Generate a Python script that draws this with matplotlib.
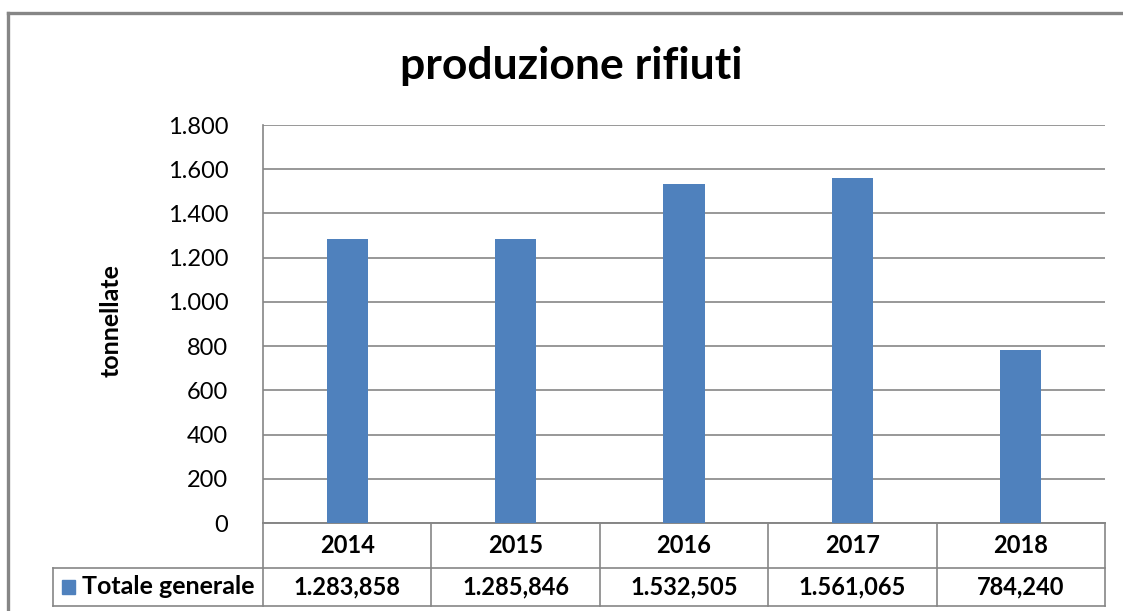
import matplotlib
matplotlib.use("Agg")
from matplotlib import pyplot as plt
from matplotlib.patches import Rectangle
from matplotlib.lines import Line2D
import matplotlib.transforms as mtransforms

anni = ['2014', '2015', '2016', '2017', '2018']
valori = [1283.858, 1285.846, 1532.505, 1561.065, 784.240]
etichette = ['1.283,858', '1.285,846', '1.532,505', '1.561,065', '784,240']
yticks = [0, 200, 400, 600, 800, 1000, 1200, 1400, 1600, 1800]
ytick_labels = ['0', '200', '400', '600', '800', '1.000', '1.200', '1.400', '1.600', '1.800']
serie = 'Totale generale'

blu = '#4F81BD'
grigio = '#868686'
plt.rcParams['font.family'] = ['Lato', 'DejaVu Sans']

W, H = 1123, 611
fig = plt.figure(figsize=(W / 100, H / 100), dpi=100)

# outer chart frame (only left and top edges are visible)
fx, fy = 7.5 / W, 1 - 12.5 / H
fig.add_artist(Line2D([fx, fx], [-0.05, fy], color=grigio, lw=2.4, transform=fig.transFigure))
fig.add_artist(Line2D([fx, 1.05], [fy, fy], color=grigio, lw=2.4, transform=fig.transFigure))

left, right, top, bottom = 263, 1105, 125, 523
ax = fig.add_axes([left / W, 1 - bottom / H, (right - left) / W, (bottom - top) / H])

x = list(range(len(anni)))
ax.bar(x, valori, width=0.245, color=blu, zorder=3)
ax.set_xlim(-0.5, len(anni) - 0.5)
ax.set_ylim(0, 1800)
ax.set_yticks(yticks)
ax.set_yticklabels(ytick_labels, fontsize=17)
ax.set_xticks([])
ax.tick_params(axis='y', length=0, pad=25)
ax.grid(axis='y', color=grigio, lw=1.2, zorder=0)
for s in ['top', 'right']:
    ax.spines[s].set_visible(False)
for s in ['left', 'bottom']:
    ax.spines[s].set_color(grigio)
    ax.spines[s].set_linewidth(1.2)

fig.text(111 / W, 1 - 321 / H, 'tonnellate', rotation=90, ha='center', va='center',
         fontsize=18, fontweight='bold')
fig.text(571 / W, 1 - 66 / H, 'produzione rifiuti', ha='center', va='center',
         fontsize=32, fontweight='bold')

# data table below the plot
tr = mtransforms.blended_transform_factory(ax.transData, fig.transFigure)
y_top = 1 - 523 / H
y_mid = 1 - 568 / H
y_bot = 1 - 606 / H
lab_w = (263 - 52.5) / ((right - left) / len(anni))
x0 = -0.5 - lab_w
xe = len(anni) - 0.5
kw = dict(color=grigio, lw=1.2, transform=tr, clip_on=False)
ax.plot([-0.5, xe], [y_top, y_top], **kw)
ax.plot([x0, xe], [y_mid, y_mid], **kw)
ax.plot([x0, xe], [y_bot, y_bot], **kw)
for i in range(len(anni) + 1):
    ax.plot([i - 0.5, i - 0.5], [y_bot, y_top], **kw)
ax.plot([x0, x0], [y_bot, y_mid], **kw)

for i, (a, v) in enumerate(zip(anni, etichette)):
    ax.text(i, (y_top + y_mid) / 2, a, ha='center', va='center', fontsize=17,
            fontweight='bold', transform=tr)
    ax.text(i, (y_mid + y_bot) / 2, v, ha='center', va='center', fontsize=17,
            fontweight='bold', transform=tr)

ax.add_patch(Rectangle((x0 + 0.055, (y_mid + y_bot) / 2 - 7 / H), 13 / 168.4, 14 / H,
                       transform=tr, color=blu, clip_on=False))
ax.text(x0 + 0.175, (y_mid + y_bot) / 2, serie, ha='left', va='center', fontsize=18,
        fontweight='bold', transform=tr)

fig.savefig('out.png', dpi=100)
